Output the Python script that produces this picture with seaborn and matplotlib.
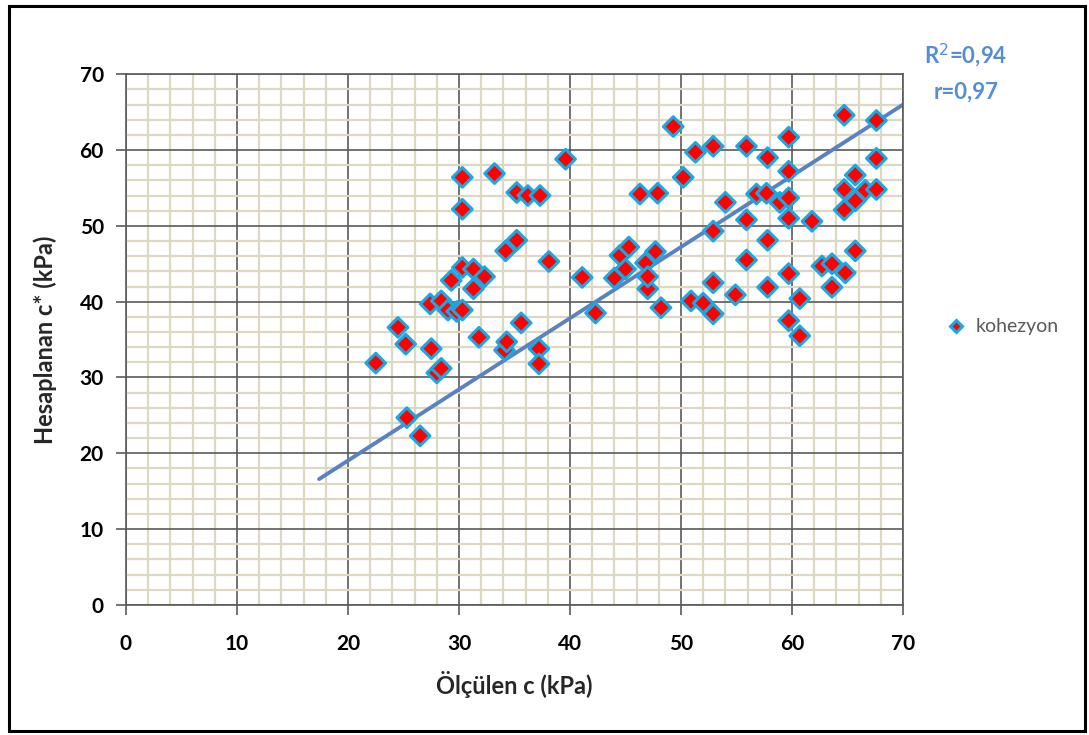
import matplotlib
matplotlib.use("Agg")
import matplotlib.pyplot as plt
from matplotlib.patches import Rectangle
from matplotlib.ticker import MultipleLocator
import pandas as pd
import seaborn as sns

# Measured vs. computed cohesion (kPa)
olculen_c = [22.5, 24.5, 25.2, 25.3, 26.5, 27.4, 27.5, 28.0, 28.4, 28.4,
             29.0, 29.3, 29.8, 30.3, 30.3, 30.3, 30.3, 31.3, 31.3, 31.8,
             32.3, 33.2, 34.1, 34.3, 34.2, 35.2, 35.2, 35.6, 36.2, 37.2,
             37.2, 37.3, 38.1, 39.6, 41.1, 42.3, 44.0, 44.5, 45.0, 45.3,
             46.3, 46.8, 47.0, 47.0, 47.7, 47.9, 48.2, 49.3, 50.2, 50.9,
             51.3, 52.0, 52.9, 52.9, 52.9, 52.9, 54.0, 54.9, 55.9, 55.9,
             55.9, 56.8, 57.8, 57.7, 57.8, 57.8, 58.9, 59.7, 59.7, 59.7,
             59.7, 59.7, 59.7, 60.7, 60.7, 61.8, 62.7, 63.6, 63.6, 64.7,
             64.7, 64.7, 64.8, 65.7, 65.7, 65.7, 66.6, 67.6, 67.6, 67.6]
hesaplanan_c = [31.9, 36.6, 34.4, 24.7, 22.3, 39.7, 33.8, 30.6, 31.2, 40.1,
                38.9, 42.8, 38.7, 38.9, 44.5, 52.2, 56.4, 44.3, 41.7, 35.3,
                43.3, 56.9, 33.6, 34.7, 46.7, 48.1, 54.4, 37.2, 54.0, 33.8,
                31.8, 54.0, 45.3, 58.8, 43.2, 38.5, 43.1, 46.1, 44.3, 47.2,
                54.2, 45.1, 41.7, 43.3, 46.6, 54.3, 39.2, 63.1, 56.4, 40.1,
                59.7, 39.8, 60.5, 49.3, 42.5, 38.4, 53.1, 40.9, 60.5, 50.8,
                45.5, 54.2, 59.0, 54.3, 48.1, 41.9, 53.1, 61.7, 57.2, 53.7,
                51.0, 43.7, 37.5, 40.4, 35.5, 50.6, 44.7, 45.0, 41.9, 64.6,
                54.8, 52.1, 43.8, 56.7, 53.3, 46.7, 54.7, 63.9, 58.9, 54.8]

# Fitted trend line and statistics
fit_slope = 0.939
fit_intercept = 0.26
fit_x_range = [17.4, 70.0]
r_squared = "0,94"
r_value = "0,97"

tick_values = [0, 10, 20, 30, 40, 50, 60, 70]

df = pd.DataFrame({"olculen": olculen_c, "hesaplanan": hesaplanan_c,
                   "seri": "kohezyon"})

sns.set_theme(style="white")
plt.rcParams["font.family"] = ["Lato", "DejaVu Sans"]

fig = plt.figure(figsize=(10.89, 7.35), dpi=100)
ax = fig.add_axes([0.1157, 0.177, 0.7135, 0.722])

# Minor and major grid
ax.xaxis.set_minor_locator(MultipleLocator(2))
ax.yaxis.set_minor_locator(MultipleLocator(2))
ax.grid(which="minor", color="#ddd8c2", linewidth=1.6, zorder=0)
ax.grid(which="major", color="#5a5a5a", linewidth=1.2, zorder=0)
ax.set_axisbelow(True)

fit_y = [fit_slope * v + fit_intercept for v in fit_x_range]
ax.plot(fit_x_range, fit_y, color="#5b82c0", linewidth=2.8, zorder=2)

sns.scatterplot(data=df, x="olculen", y="hesaplanan", hue="seri",
                palette=["#ff0000"], marker="D", s=100,
                edgecolor="#19a8e3", linewidth=2.2, ax=ax, zorder=3)

ax.set_xlim(0, 70)
ax.set_ylim(0, 70)
ax.set_xticks(tick_values)
ax.set_yticks(tick_values)
ax.tick_params(axis="both", which="major", direction="out", length=7,
               width=1.2, color="#5a5a5a", labelsize=15, pad=14,
               bottom=True, left=True, labelcolor="black")
ax.tick_params(axis="y", pad=9)
ax.tick_params(axis="both", which="minor", length=0)
for lab in ax.get_xticklabels() + ax.get_yticklabels():
    lab.set_fontweight("bold")

for side in ["left", "bottom", "top", "right"]:
    ax.spines[side].set_color("#5a5a5a")
    ax.spines[side].set_linewidth(1.2)

ax.set_xlabel("Ölçülen c (kPa)", fontsize=17, fontweight="bold", labelpad=12)
ax.set_ylabel("Hesaplanan c* (kPa)", fontsize=17, fontweight="bold", labelpad=16)

leg = ax.legend(loc="center left", bbox_to_anchor=(1.033, 0.524),
                frameon=False, fontsize=14, handletextpad=0.0,
                markerscale=0.6, borderaxespad=0)
for t in leg.get_texts():
    t.set_color("#595959")

fig.text(0.887, 0.925, f"R$^{{2}}$={r_squared}", color="#558ed5",
         fontsize=16, fontweight="bold", ha="center", va="center")
fig.text(0.887, 0.874, f"r={r_value}", color="#558ed5",
         fontsize=16, fontweight="bold", ha="center", va="center")

# Outer frame
fig.patches.append(Rectangle((0.008, 0.006), 0.988, 0.986,
                             transform=fig.transFigure, fill=False,
                             edgecolor="black", linewidth=2.2))

fig.savefig("out.png", dpi=100)
